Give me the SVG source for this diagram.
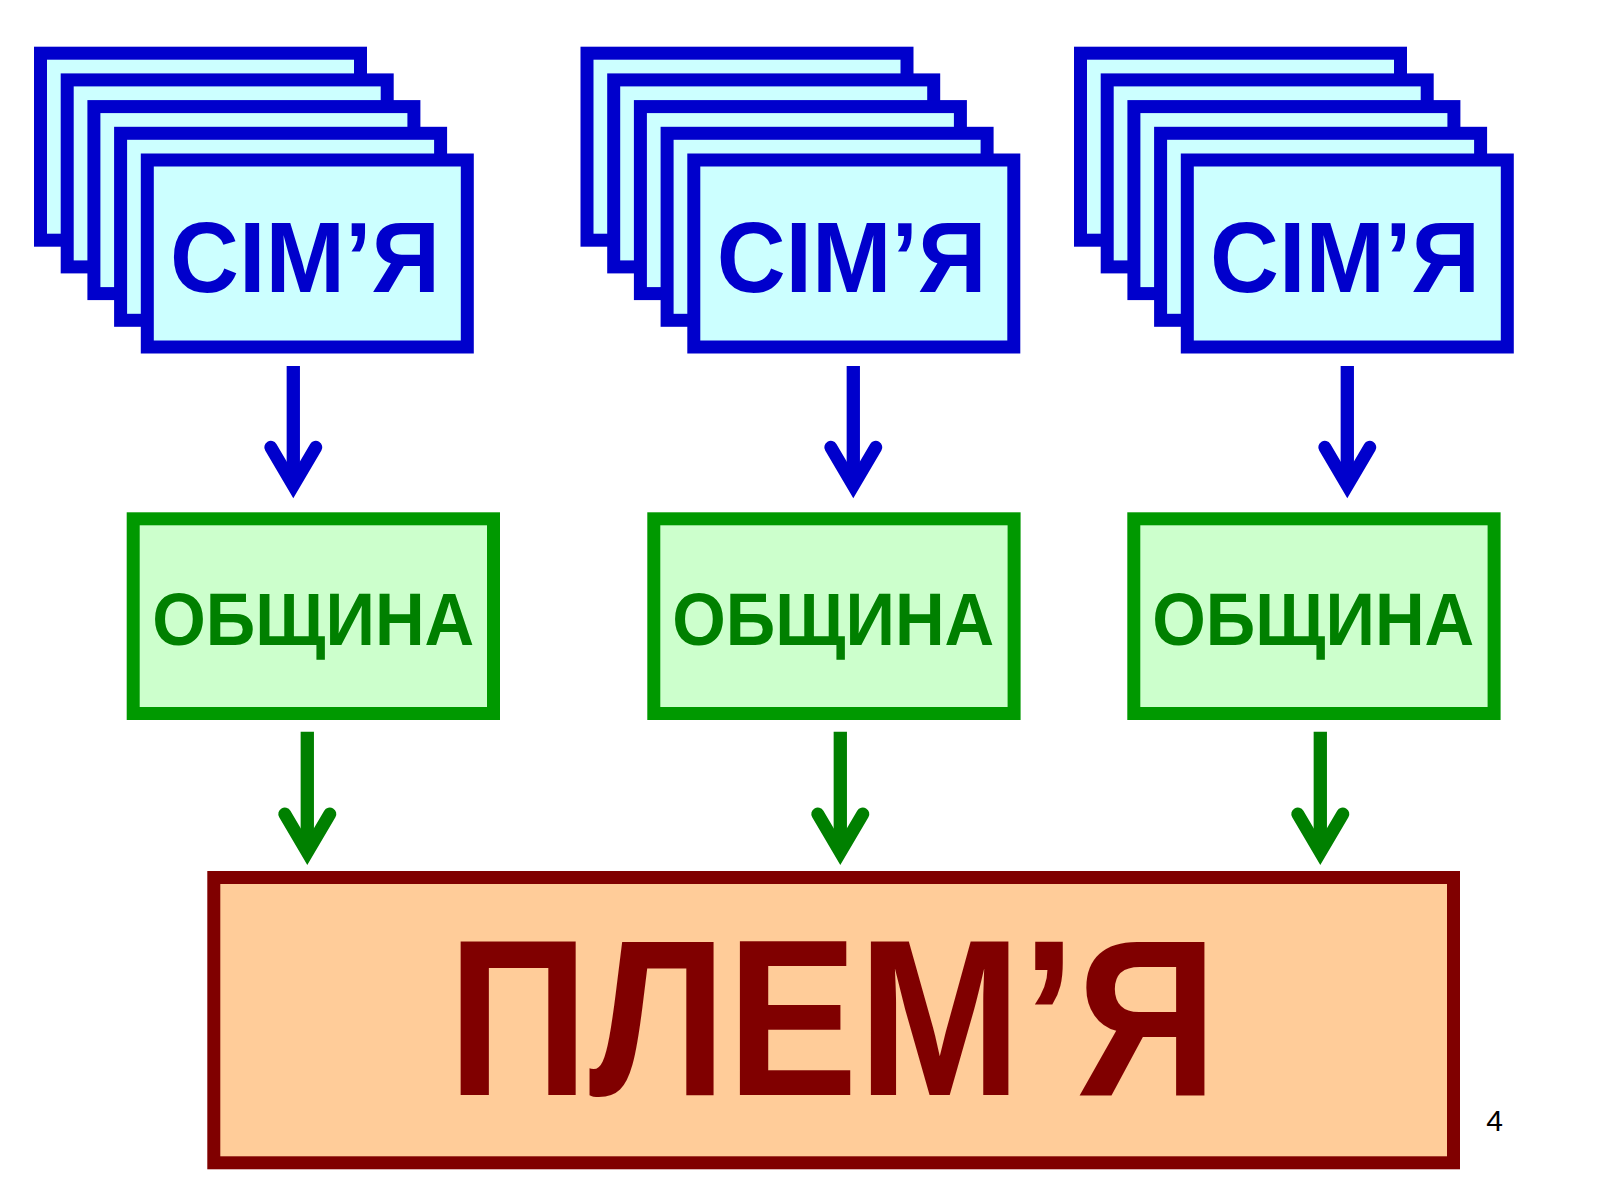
<svg xmlns="http://www.w3.org/2000/svg" xmlns:xlink="http://www.w3.org/1999/xlink" width="1600" height="1200" viewBox="0 0 1600 1200">
<style>
.card{fill:#CCFFFF;stroke:#0000CC;stroke-width:13}
.comm{fill:#CCFFCC;stroke:#009900;stroke-width:13}
.tribe{fill:#FFCC99;stroke:#800000;stroke-width:13}
.t{font-family:"Liberation Sans","DejaVu Sans",Arial,sans-serif;font-weight:bold;text-anchor:middle}
.tf{font-size:100px;fill:#0000CC}
.tc{font-size:74px;fill:#008000}
.tt{font-size:222px;fill:#800000}
.shaft{fill:none;stroke-width:13.3;stroke-linecap:butt}
.head{fill:none;stroke-width:13;stroke-linecap:round;stroke-linejoin:miter;stroke-miterlimit:10}
.blue{stroke:#0000CC}
.green{stroke:#008000}
.pn{font-family:"Liberation Sans",Arial,sans-serif;font-size:30px;fill:#000;text-anchor:middle}
</style>
<rect x="0" y="0" width="1600" height="1200" fill="#FFFFFF"/>

<g id="family1">
<rect class="card" x="40.5" y="53.2" width="320" height="187"/>
<rect class="card" x="67.2" y="79.9" width="320" height="187"/>
<rect class="card" x="93.9" y="106.6" width="320" height="187"/>
<rect class="card" x="120.6" y="133.3" width="320" height="187"/>
<rect class="card" x="147.3" y="160" width="320" height="187"/>
<text class="t tf" x="305" y="291.5" textLength="270" lengthAdjust="spacingAndGlyphs">СІМ’Я</text>
</g>

<g id="family2">
<rect class="card" x="587" y="53.2" width="320" height="187"/>
<rect class="card" x="613.7" y="79.9" width="320" height="187"/>
<rect class="card" x="640.4" y="106.6" width="320" height="187"/>
<rect class="card" x="667.1" y="133.3" width="320" height="187"/>
<rect class="card" x="693.8" y="160" width="320" height="187"/>
<text class="t tf" x="851.7" y="291.5" textLength="270" lengthAdjust="spacingAndGlyphs">СІМ’Я</text>
</g>

<g id="family3">
<rect class="card" x="1080.5" y="53.2" width="320" height="187"/>
<rect class="card" x="1107.2" y="79.9" width="320" height="187"/>
<rect class="card" x="1133.9" y="106.6" width="320" height="187"/>
<rect class="card" x="1160.6" y="133.3" width="320" height="187"/>
<rect class="card" x="1187.3" y="160" width="320" height="187"/>
<text class="t tf" x="1345" y="291.5" textLength="270" lengthAdjust="spacingAndGlyphs">СІМ’Я</text>
</g>

<g id="community1">
<rect class="comm" x="133.2" y="518.8" width="360.3" height="194.7"/>
<text class="t tc" x="313.3" y="645" textLength="322" lengthAdjust="spacingAndGlyphs">ОБЩИНА</text>
</g>
<g id="community2">
<rect class="comm" x="653.8" y="518.8" width="360.3" height="194.7"/>
<text class="t tc" x="833.3" y="645" textLength="322" lengthAdjust="spacingAndGlyphs">ОБЩИНА</text>
</g>
<g id="community3">
<rect class="comm" x="1133.8" y="518.8" width="360.3" height="194.7"/>
<text class="t tc" x="1313.3" y="645" textLength="322" lengthAdjust="spacingAndGlyphs">ОБЩИНА</text>
</g>

<g id="tribe">
<rect class="tribe" x="213.8" y="877.5" width="1239.7" height="285.3"/>
<text class="t tt" x="832.5" y="1095" textLength="770" lengthAdjust="spacingAndGlyphs">ПЛЕМ’Я</text>
</g>

<g id="connectors">
<g class="blue">
<line class="shaft" x1="293.3" y1="366" x2="293.3" y2="486"/>
<polyline class="head" points="270.8,447.3 293.3,485.5 315.8,447.3"/>
<line class="shaft" x1="853.3" y1="366" x2="853.3" y2="486"/>
<polyline class="head" points="830.8,447.3 853.3,485.5 875.8,447.3"/>
<line class="shaft" x1="1347.3" y1="366" x2="1347.3" y2="486"/>
<polyline class="head" points="1324.8,447.3 1347.3,485.5 1369.8,447.3"/>
</g>
<g class="green">
<line class="shaft" x1="307.3" y1="731.7" x2="307.3" y2="852.5"/>
<polyline class="head" points="284.8,814 307.3,852.2 329.8,814"/>
<line class="shaft" x1="840.3" y1="731.7" x2="840.3" y2="852.5"/>
<polyline class="head" points="817.8,814 840.3,852.2 862.8,814"/>
<line class="shaft" x1="1320.3" y1="731.7" x2="1320.3" y2="852.5"/>
<polyline class="head" points="1297.8,814 1320.3,852.2 1342.8,814"/>
</g>
</g>

<text class="pn" x="1494.7" y="1131">4</text>
</svg>
